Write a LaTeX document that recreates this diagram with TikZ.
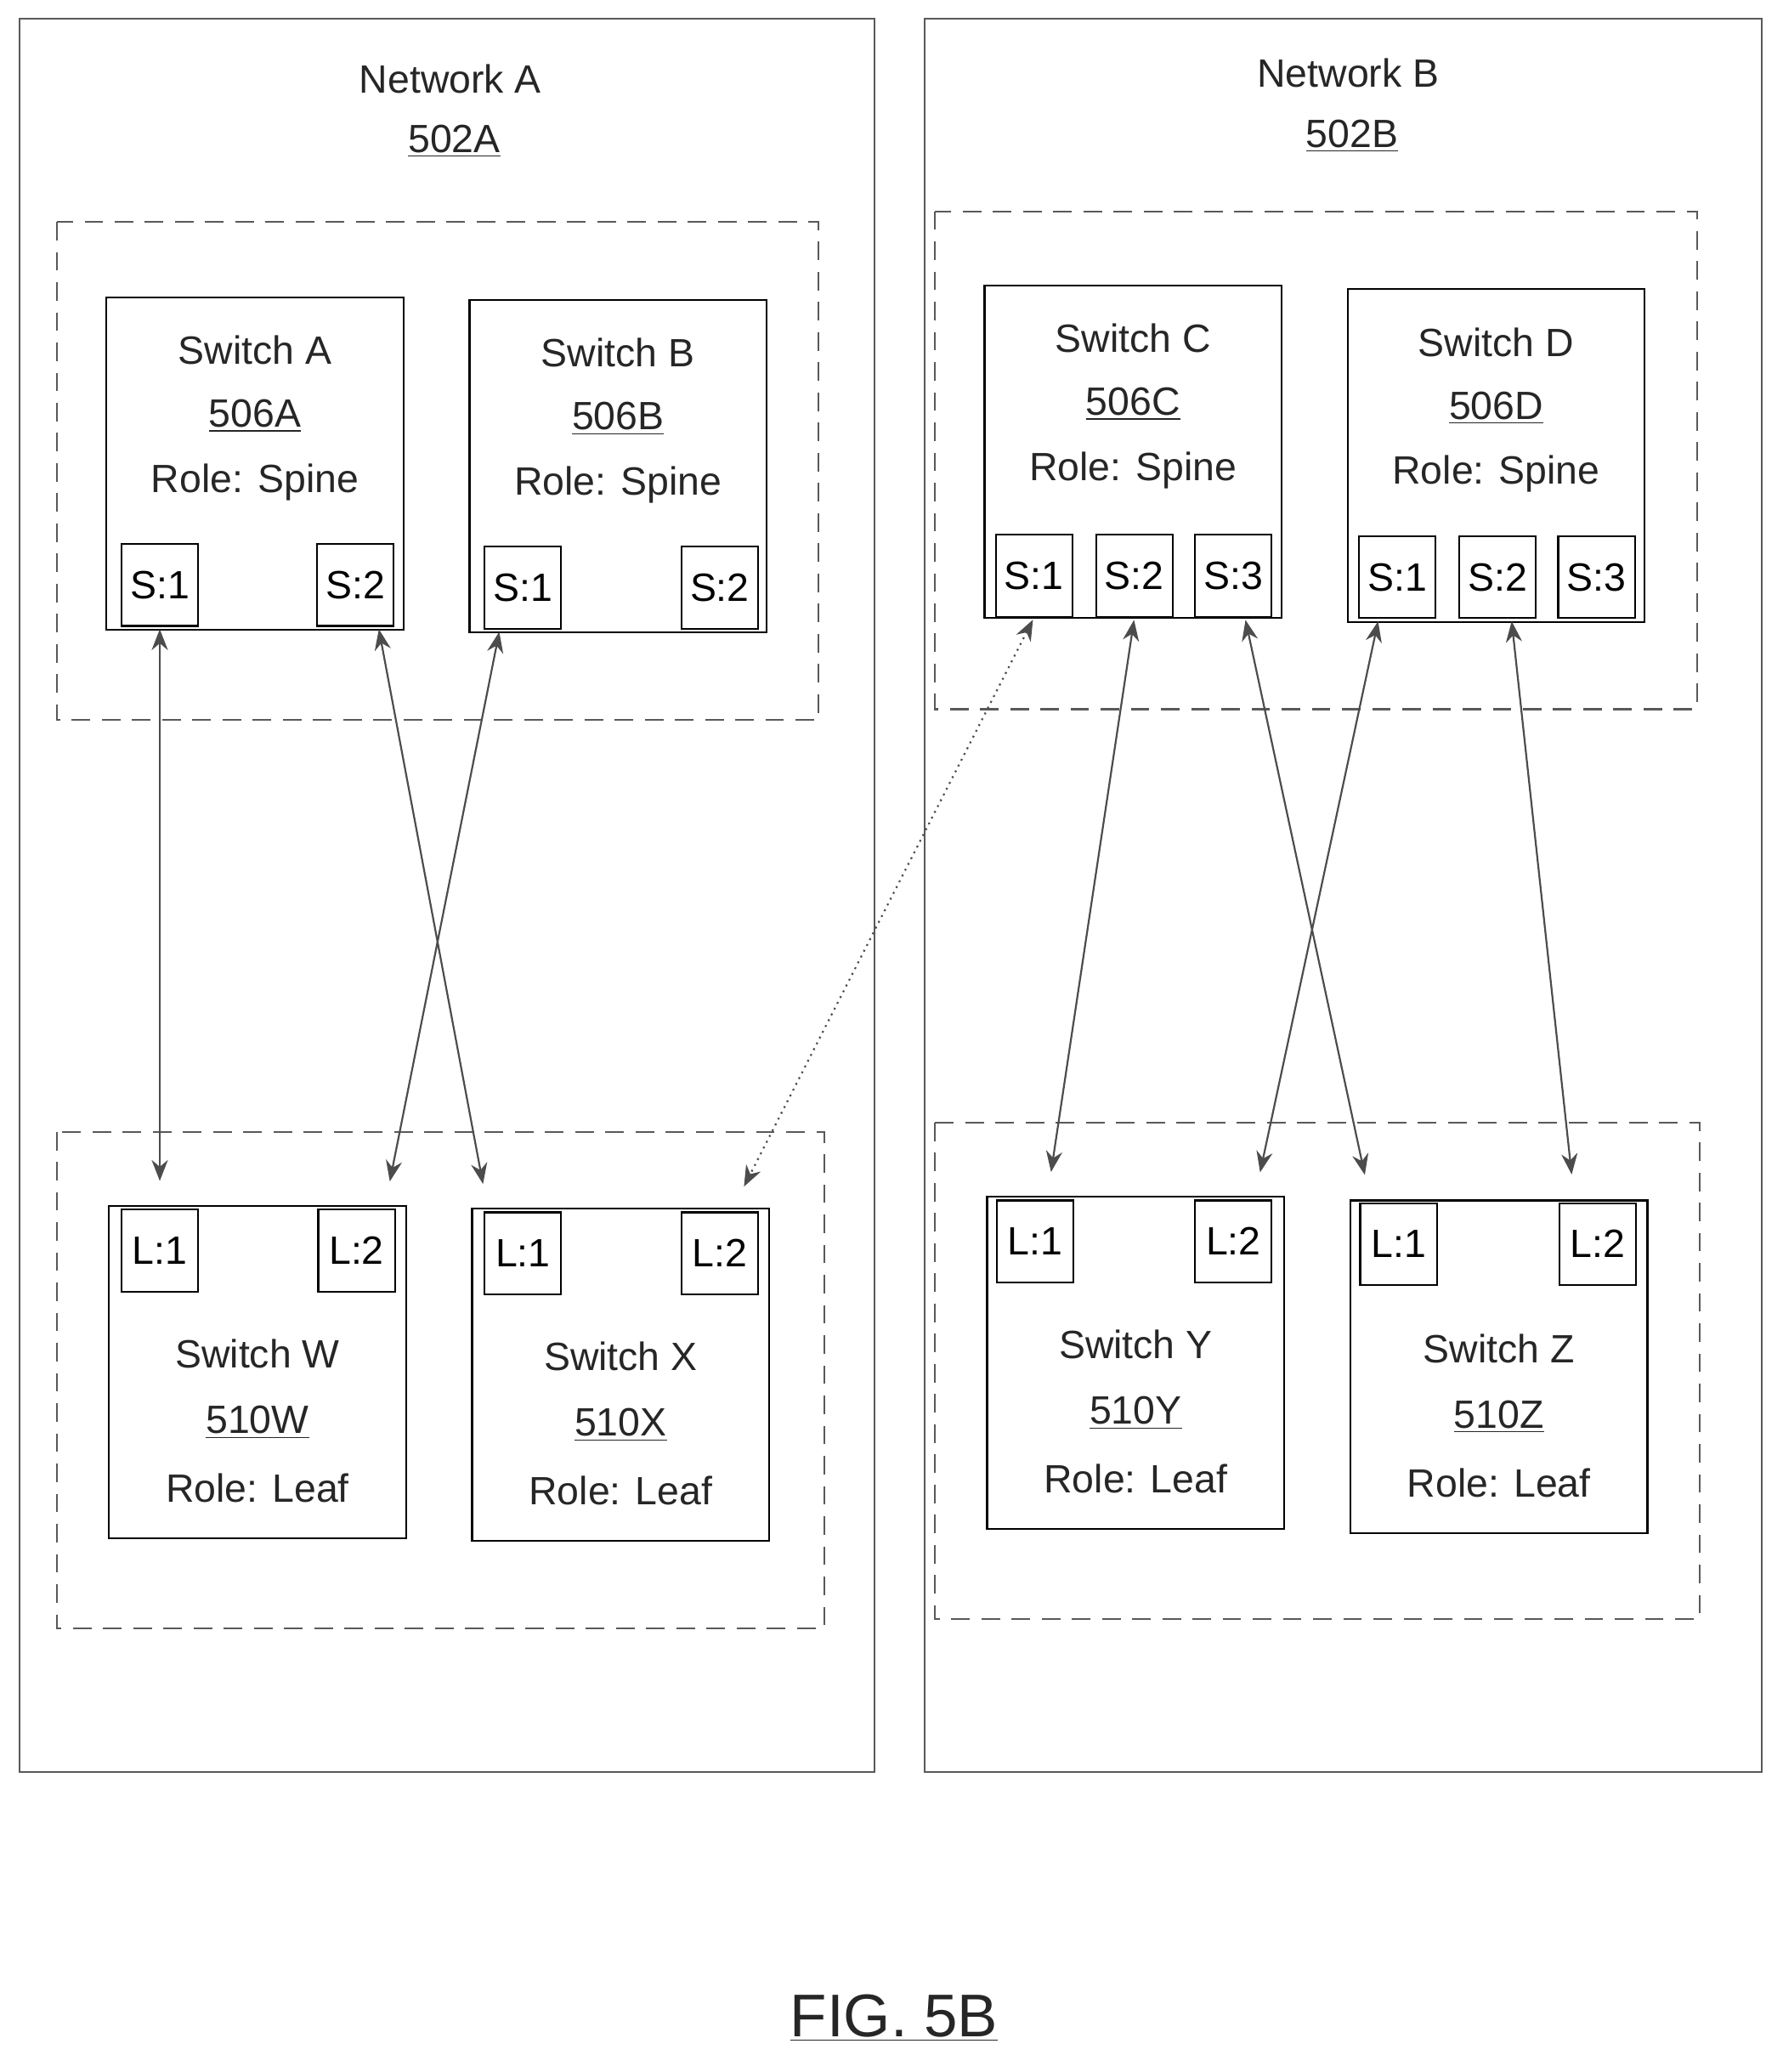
\documentclass[tikz,border=0pt]{standalone}
\usepackage{fontspec}
\setmainfont{Liberation Sans}
\usetikzlibrary{arrows.meta}
\tikzset{
  net/.style={draw, thick, gray!70!black},
  group/.style={draw, thick, dashed, dash pattern=on 8pt off 5pt, gray!70!black},
  switch/.style={draw, thick, inner sep=0pt, minimum width=4.5cm, minimum height=5.04cm},
  port/.style={draw, thick, inner sep=0pt, minimum width=1.16cm, minimum height=1.24cm, font=\fontsize{17}{20}\selectfont},
  txt/.style={font=\fontsize{17}{20}\selectfont, gray!30!black},
  link/.style={thick, gray!60!black, {Stealth[length=9pt,width=7pt]}-{Stealth[length=9pt,width=7pt]}, shorten <=1pt, shorten >=12pt}
}
\begin{document}
\begin{tikzpicture}[x=0.02cm, y=-0.02cm]
\useasboundingbox (0,0) rectangle (1350,1569);

% networks
\draw[net] (15,14) rectangle (662,1342);
\draw[net] (700,14) rectangle (1334,1342);
\node[txt] (netA) at (341,60) {Network A};
\node[txt] (netAid) at (344,107) {\underline{502A}};
\node[txt] (netB) at (1021,55) {Network B};
\node[txt] (netBid) at (1024,103) {\underline{502B}};

% groups
\draw[group] (43,168) rectangle (620,545);
\draw[group] (43,857) rectangle (624,1233);
\draw[group] (708,160) rectangle (1285,537);
\draw[group] (708,850) rectangle (1287,1226);

% spine switches
\foreach \n/\x/\y/\l in {swA/193/351/A, swB/468/353/B, swC/858/342/C, swD/1133/345/D}{
  \node[switch] (\n) at (\x,\y) {};
  \node[txt] at (\x,\y-86) {Switch \l};
  \node[txt] at (\x,\y-36) {\underline{506\l}};
  \node[txt] at (\x,\y+14) {Role: Spine};
}
% leaf switches
\foreach \n/\x/\y/\l in {swW/195/1039/W, swX/470/1041/X, swY/860/1032/Y, swZ/1135/1035/Z}{
  \node[switch] (\n) at (\x,\y) {};
  \node[txt] at (\x,\y-14) {Switch \l};
  \node[txt] at (\x,\y+38) {\underline{510\l}};
  \node[txt] at (\x,\y+88) {Role: Leaf};
}

% ports
\node[port] (aS1) at (121,443) {S:1};
\node[port] (aS2) at (269,443) {S:2};
\node[port] (bS1) at (396,445) {S:1};
\node[port] (bS2) at (545,445) {S:2};
\node[port] (cS1) at (783,436) {S:1};
\node[port] (cS2) at (859,436) {S:2};
\node[port] (cS3) at (934,436) {S:3};
\node[port] (dS1) at (1058,437) {S:1};
\node[port] (dS2) at (1134,437) {S:2};
\node[port] (dS3) at (1209,437) {S:3};
\node[port] (wL1) at (121,947) {L:1};
\node[port] (wL2) at (270,947) {L:2};
\node[port] (xL1) at (396,949) {L:1};
\node[port] (xL2) at (545,949) {L:2};
\node[port] (yL1) at (784,940) {L:1};
\node[port] (yL2) at (934,940) {L:2};
\node[port] (zL1) at (1059,942) {L:1};
\node[port] (zL2) at (1210,942) {L:2};

% links
\draw[link] (aS1.south) -- (wL1.north);
\draw[link] ([xshift=10pt]aS2.south) -- ([xshift=-15pt]xL1.north);
\draw[link] ([xshift=-10pt]bS1.south) -- ([xshift=12pt]wL2.north);
\draw[link, dotted] (cS1.south) -- ([xshift=5pt]xL2.north);
\draw[link] (cS2.south) -- ([xshift=5pt]yL1.north);
\draw[link] ([xshift=5pt]cS3.south) -- ([xshift=-12pt]zL1.north);
\draw[link] ([xshift=-8pt]dS1.south) -- ([xshift=9pt]yL2.north);
\draw[link] ([xshift=6pt]dS2.south) -- ([xshift=-10pt]zL2.north);

\node[font=\fontsize{26}{30}\selectfont, gray!30!black] (fig) at (677,1528) {\underline{FIG. 5B}};
\end{tikzpicture}
\end{document}
